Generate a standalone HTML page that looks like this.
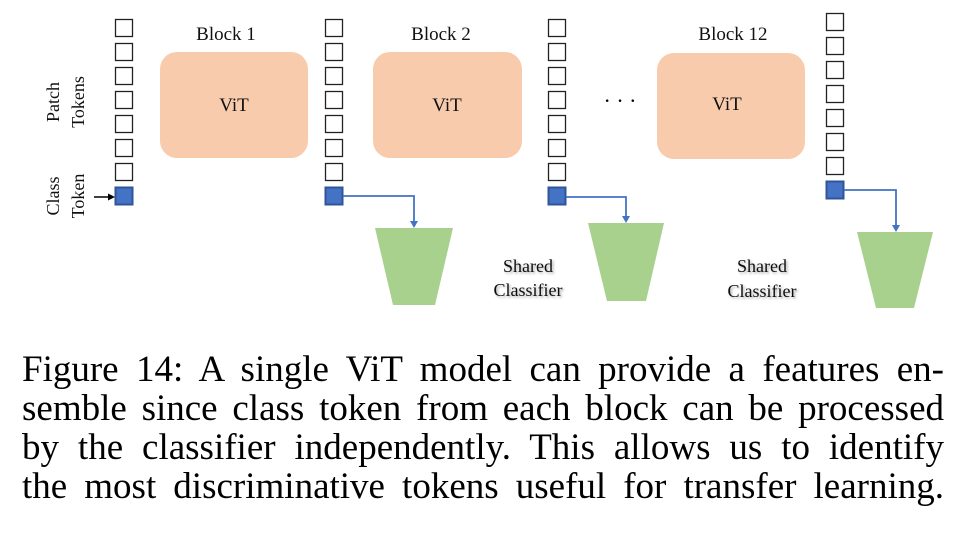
<!DOCTYPE html>
<html><head><meta charset="utf-8"><style>
body{margin:0;background:#fff;width:964px;height:536px;overflow:hidden;position:relative}
svg{position:absolute;left:0;top:0}
.cap{position:absolute;left:22px;top:350px;width:922px;font-family:"Liberation Serif",serif;font-size:37px;line-height:39px;color:#000}
.cap div{text-align:justify;text-align-last:justify;height:39px;white-space:nowrap}
</style></head><body>
<svg width="964" height="340" viewBox="0 0 964 340" font-family="Liberation Serif, serif">
<defs>
<filter id="sh" x="-20%" y="-20%" width="140%" height="160%"><feDropShadow dx="1.5" dy="1.5" stdDeviation="1.2" flood-color="#000" flood-opacity="0.35"/></filter>
<g id="col">
<rect x="0.5" y="0.5" width="17" height="17" fill="#fff" stroke="#222" stroke-width="1.3"/>
<rect x="0.5" y="24.5" width="17" height="17" fill="#fff" stroke="#222" stroke-width="1.3"/>
<rect x="0.5" y="48.5" width="17" height="17" fill="#fff" stroke="#222" stroke-width="1.3"/>
<rect x="0.5" y="72.5" width="17" height="17" fill="#fff" stroke="#222" stroke-width="1.3"/>
<rect x="0.5" y="96.5" width="17" height="17" fill="#fff" stroke="#222" stroke-width="1.3"/>
<rect x="0.5" y="120.5" width="17" height="17" fill="#fff" stroke="#222" stroke-width="1.3"/>
<rect x="0.5" y="144.5" width="17" height="17" fill="#fff" stroke="#222" stroke-width="1.3"/>
<rect x="0.5" y="168.5" width="17" height="17" fill="#4472c4" stroke="#2f5597" stroke-width="2"/>
</g>
</defs>
<use href="#col" x="115" y="19"/>
<use href="#col" x="325" y="19"/>
<use href="#col" x="548" y="19"/>
<use href="#col" x="826" y="13"/>
<rect x="160" y="52" width="148" height="106" rx="17" fill="#f8cbad"/>
<rect x="373" y="52" width="149" height="106" rx="17" fill="#f8cbad"/>
<rect x="657" y="53" width="148" height="106" rx="17" fill="#f8cbad"/>
<g font-size="19" text-anchor="middle" fill="#111">
<text x="226" y="40">Block 1</text>
<text x="441" y="40">Block 2</text>
<text x="733" y="40">Block 12</text>
<text x="234" y="111">ViT</text>
<text x="447" y="111">ViT</text>
<text x="727" y="110">ViT</text>
</g>
<text x="620" y="108" font-size="22" text-anchor="middle">· · ·</text>
<g font-size="18" fill="#111">
<text transform="translate(59,102) rotate(-90)" text-anchor="middle">Patch</text>
<text transform="translate(84,102) rotate(-90)" text-anchor="middle">Tokens</text>
<text transform="translate(59,196) rotate(-90)" text-anchor="middle">Class</text>
<text transform="translate(84,196) rotate(-90)" text-anchor="middle">Token</text>
</g>
<line x1="94" y1="197" x2="110" y2="197" stroke="#000" stroke-width="1.5"/>
<polygon points="115,197 108,193.5 108,200.5" fill="#000"/>
<g stroke="#4472c4" stroke-width="1.8" fill="none">
<polyline points="343,196 414,196 414,222"/>
<polyline points="566,197 626,197 626,217"/>
<polyline points="844,190 896,190 896,226"/>
</g>
<g fill="#4472c4">
<polygon points="414,228 410,221 418,221"/>
<polygon points="626,223 622,216 630,216"/>
<polygon points="896,232 892,225 900,225"/>
</g>
<g fill="#a9d18e">
<polygon points="375,228 453,228 435,305 393,305"/>
<polygon points="588,223 664,223 646,301 607,301"/>
<polygon points="857,232 933,232 914,308 876,308"/>
</g>
<g font-size="18" fill="#111" text-anchor="middle" filter="url(#sh)">
<text x="528" y="272">Shared</text>
<text x="528" y="296">Classifier</text>
<text x="762" y="272">Shared</text>
<text x="762" y="297">Classifier</text>
</g>
</svg>
<div class="cap">
<div>Figure 14: A single ViT model can provide a features en-</div>
<div>semble since class token from each block can be processed</div>
<div>by the classifier independently. This allows us to identify</div>
<div>the most discriminative tokens useful for transfer learning.</div>
</div>
</body></html>
